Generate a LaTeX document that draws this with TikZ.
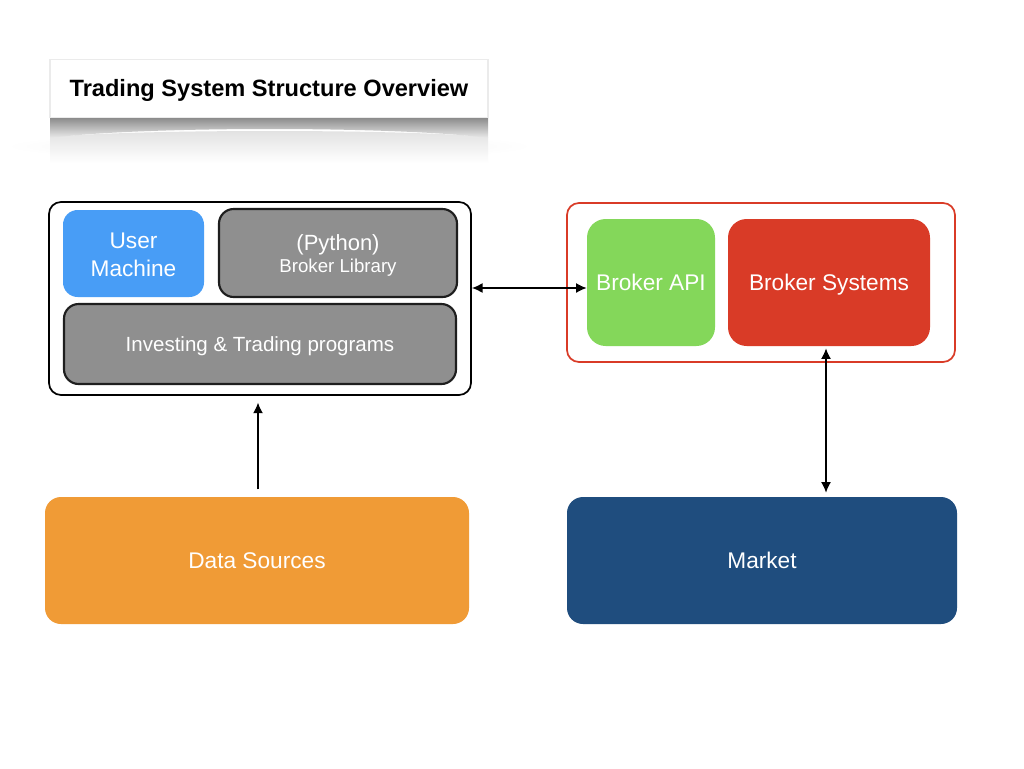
\documentclass[tikz,border=0pt]{standalone}
\usepackage{fontspec}
\setmainfont{Liberation Sans}
\usetikzlibrary{arrows.meta,calc}
\definecolor{cblue}{HTML}{489DF6}
\definecolor{cgray}{HTML}{8F8F8F}
\definecolor{cgreen}{HTML}{84D75A}
\definecolor{cred}{HTML}{D93B27}
\definecolor{corange}{HTML}{F09B36}
\definecolor{cnavy}{HTML}{1F4D7E}
\definecolor{cedge}{HTML}{1E1E1E}
\tikzset{
  wh/.style 2 args={minimum width=#1*0.75pt, minimum height=#2*0.75pt},
  box/.style={rectangle, inner sep=0pt, text=white, align=center},
  graybox/.style={box, fill=cgray, draw=cedge, line width=1.6pt, rounded corners=11pt},
  container/.style={rectangle, inner sep=0pt, line width=1.3pt, rounded corners=9pt},
  bigfont/.style={font=\fontsize{17}{20.5}\selectfont},
  oneline/.style={text height=#1, text depth=0pt},
  tip/.style={Latex[length=8pt,width=7.5pt]},
  arr/.style={line width=1.2pt, draw=black, {Latex[length=8pt,width=7.5pt]}-{Latex[length=8pt,width=7.5pt]}},
  uparr/.style={line width=1.2pt, draw=black, -{Latex[length=8pt,width=7.5pt]}}
}
\begin{document}
\begin{tikzpicture}[x=0.75pt,y=-0.75pt]
\useasboundingbox (0,0) rectangle (1024,768);
\fill[white] (0,0) rectangle (1024,768);

% title shadow and reflection
\shade[inner color=black!7, outer color=white] (269,146) ellipse (265 and 14);
\shade[top color=black!12, bottom color=white] (50,137) .. controls (140,129) and (400,129) .. (488,137) -- (488,163) -- (50,163) -- cycle;
\shade[top color=black!45, bottom color=black!8] (50,118) -- (488,118) -- (488,138) .. controls (400,126) and (140,126) .. (50,138) -- cycle;
\node[box, text=black, fill=white, draw=black!8, line width=0.8pt, wh={438}{58}, oneline=12.7pt, font=\bfseries\fontsize{17.7}{21}\selectfont] (title) at (269,88.5) {Trading System Structure Overview};

% left container
\node[container, draw=black, wh={422}{193}] (lc) at (260,298.5) {};
\node[box, fill=cblue, rounded corners=11pt, wh={141}{87}, bigfont] (um) at (133.5,253.5) {\rule{0pt}{13.5pt}User\\Machine};
\node[graybox, wh={238}{88}] (pb) at (338,253) {{\fontsize{16.5}{20}\selectfont\rule{0pt}{15.5pt}(Python)}\\[2.5pt]{\fontsize{14}{17}\selectfont Broker Library}};
\node[graybox, wh={392}{80}, oneline=11pt, font=\fontsize{15.4}{18}\selectfont] (itp) at (260,344) {Investing \& Trading programs};

% right container
\node[container, draw=cred, wh={388}{159}] (rc) at (761,282.5) {};
\node[box, fill=cgreen, rounded corners=14pt, wh={128}{127}, bigfont, oneline=12.2pt] (api) at (651,282.5) {Broker API};
\node[box, fill=cred, rounded corners=14pt, wh={202}{127}, bigfont, oneline=12.2pt] (bs) at (829,282.5) {Broker Systems};

% bottom boxes
\node[box, fill=corange, rounded corners=12pt, wh={424}{127}, bigfont, oneline=12.2pt] (ds) at (257,560.5) {Data Sources};
\node[box, fill=cnavy, rounded corners=12pt, wh={390}{127}, bigfont, oneline=12.2pt] (mk) at (762,560.5) {Market};

% connectors
\coordinate (hy) at (0,288);
\coordinate (vx) at (258,0);
\coordinate (mx) at (826,0);
\draw[arr] (lc.east |- hy) -- (api.west |- hy);
\draw[uparr, shorten <=5.5pt, shorten >=5pt] (ds.north -| vx) -- (lc.south -| vx);
\draw[arr, shorten <=1.5pt, shorten >=3pt] (bs.south -| mx) -- (mk.north -| mx);
\end{tikzpicture}
\end{document}
